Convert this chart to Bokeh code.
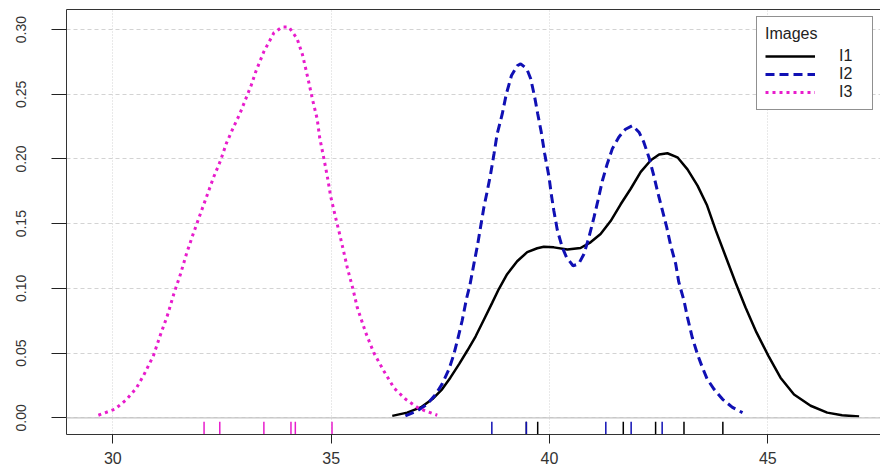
from bokeh.plotting import figure
from bokeh.models import Range1d, FixedTicker, LinearAxis, Span, Legend, LegendItem
from bokeh.embed import file_html
from bokeh.resources import INLINE

# ---------------- data ----------------
series_names = ["I1", "I2", "I3"]
legend_title = "Images"

i1_x = [36.40, 36.74, 37.05, 37.32, 37.54, 37.73, 37.93, 38.12, 38.31, 38.50, 38.69, 38.84,
        39.03, 39.26, 39.49, 39.72, 39.87, 40.10, 40.41, 40.71, 40.94, 41.17, 41.40, 41.63,
        41.86, 42.09, 42.32, 42.51, 42.70, 42.93, 43.16, 43.39, 43.61, 43.81, 44.03, 44.26,
        44.49, 44.74, 45.01, 45.29, 45.60, 45.98, 46.36, 46.70, 47.09]
i1_y = [0.0015, 0.004, 0.008, 0.0145, 0.022, 0.031, 0.0415, 0.052, 0.063, 0.076, 0.089, 0.0995,
        0.111, 0.121, 0.128, 0.131, 0.1322, 0.1317, 0.130, 0.1312, 0.1356, 0.142, 0.152, 0.165,
        0.177, 0.190, 0.199, 0.2034, 0.2044, 0.2013, 0.192, 0.1794, 0.164, 0.1446, 0.125, 0.1045,
        0.0853, 0.066, 0.048, 0.031, 0.018, 0.0093, 0.004, 0.002, 0.001]

i2_x = [36.70, 36.97, 37.20, 37.39, 37.54, 37.70, 37.81, 37.90, 38.00, 38.10, 38.18, 38.27,
        38.35, 38.42, 38.50, 38.58, 38.65, 38.73, 38.80, 38.92, 39.01, 39.13, 39.26, 39.34,
        39.48, 39.57, 39.66, 39.73, 39.81, 39.89, 39.99, 40.04, 40.10, 40.18, 40.29, 40.39,
        40.54, 40.67, 40.79, 40.90, 41.02, 41.11, 41.21, 41.32, 41.44, 41.59, 41.74, 41.90,
        42.05, 42.16, 42.28, 42.39, 42.48, 42.58, 42.68, 42.77, 42.89, 42.96, 43.08, 43.16,
        43.27, 43.39, 43.50, 43.61, 43.77, 43.96, 44.19, 44.42]
i2_y = [0.0015, 0.0054, 0.0106, 0.018, 0.026, 0.0377, 0.049, 0.061, 0.075, 0.092, 0.103, 0.119,
        0.133, 0.147, 0.163, 0.176, 0.188, 0.204, 0.219, 0.235, 0.250, 0.2645, 0.272, 0.2735,
        0.2697, 0.262, 0.248, 0.235, 0.221, 0.204, 0.186, 0.173, 0.160, 0.145, 0.132, 0.124,
        0.1175, 0.119, 0.1266, 0.139, 0.155, 0.168, 0.183, 0.196, 0.208, 0.217, 0.223, 0.2258,
        0.2207, 0.213, 0.201, 0.187, 0.174, 0.161, 0.148, 0.134, 0.119, 0.105, 0.0905, 0.0776,
        0.062, 0.049, 0.039, 0.030, 0.022, 0.0145, 0.008, 0.004]

i3_x = [29.67, 30.05, 30.31, 30.54, 30.71, 30.93, 31.09, 31.25, 31.40, 31.55, 31.69, 31.84,
        32.01, 32.16, 32.31, 32.47, 32.60, 32.77, 32.91, 33.04, 33.17, 33.28, 33.46, 33.69,
        33.88, 34.03, 34.22, 34.34, 34.41, 34.49, 34.58, 34.68, 34.74, 34.83, 34.91, 34.99,
        35.10, 35.18, 35.27, 35.37, 35.50, 35.60, 35.79, 35.98, 36.21, 36.44, 36.70, 37.01, 37.43]
i3_y = [0.002, 0.0067, 0.014, 0.023, 0.033, 0.048, 0.064, 0.079, 0.096, 0.111, 0.127, 0.142,
        0.158, 0.172, 0.186, 0.199, 0.212, 0.225, 0.235, 0.246, 0.257, 0.268, 0.283, 0.2975,
        0.302, 0.302, 0.293, 0.281, 0.271, 0.259, 0.245, 0.231, 0.216, 0.201, 0.187, 0.171,
        0.155, 0.144, 0.131, 0.116, 0.0995, 0.085, 0.066, 0.050, 0.036, 0.023, 0.0145, 0.0072, 0.002]

rug_i1 = [39.47, 39.73, 41.69, 42.43, 43.08, 43.97]
rug_i2 = [38.68, 39.47, 41.29, 41.87, 42.58]
rug_i3 = [32.09, 32.45, 33.46, 34.08, 34.18, 35.02]

x_ticks = [30, 35, 40, 45]
x_tick_labels = ["30", "35", "40", "45"]
y_ticks = [0.0, 0.05, 0.1, 0.15, 0.2, 0.25, 0.3]
y_tick_labels = ["0.00", "0.05", "0.10", "0.15", "0.20", "0.25", "0.30"]

# ---------------- styling ----------------
FONT = "Liberation Sans"
C1, C2, C3 = "#000000", "#1010b4", "#e81ccc"
DASH2, DASH3 = "9 5", "3 4"
Y0, Y1 = -0.0129, 0.3155
RUG_LEN = 0.03 * (Y1 - Y0)

p = figure(width=880, height=470, output_backend="svg", toolbar_location=None,
           x_range=Range1d(28.94, 47.58), y_range=Range1d(Y0, Y1),
           min_border_left=66, min_border_right=0, min_border_top=9, min_border_bottom=36)
p.outline_line_color = None
p.background_fill_color = "white"
p.border_fill_color = "white"

bx = p.below[0]
bx.ticker = FixedTicker(ticks=x_ticks)
bx.major_label_overrides = {t: l for t, l in zip(x_ticks, x_tick_labels)}
bx.major_tick_out = 9
bx.major_tick_in = 0
bx.minor_tick_out = 0
bx.minor_tick_in = 0
bx.major_label_standoff = 8
bx.major_label_text_font = FONT
bx.major_label_text_font_size = "16px"
bx.major_label_text_color = "#333333"
bx.axis_line_color = "#333333"
bx.major_tick_line_color = "#222222"

ly = p.left[0]
ly.ticker = FixedTicker(ticks=y_ticks)
ly.major_label_overrides = {t: l for t, l in zip(y_ticks, y_tick_labels)}
ly.major_label_orientation = "vertical"
ly.major_tick_out = 15
ly.major_tick_in = 0
ly.minor_tick_out = 0
ly.minor_tick_in = 0
ly.major_label_standoff = 25
ly.major_label_text_font = FONT
ly.major_label_text_font_size = "14px"
ly.major_label_text_color = "#333333"
ly.axis_line_color = "#333333"
ly.major_tick_line_color = "#222222"

top = LinearAxis(ticker=FixedTicker(ticks=[]), major_label_text_font_size="0px",
                 major_tick_out=0, major_tick_in=0, minor_tick_out=0, minor_tick_in=0,
                 major_label_standoff=0, axis_line_color="#333333")
p.add_layout(top, "above")

p.xgrid.ticker = FixedTicker(ticks=x_ticks)
p.ygrid.ticker = FixedTicker(ticks=y_ticks)
p.xgrid.grid_line_color = "#d3d3d3"
p.xgrid.grid_line_dash = "1 2"
p.ygrid.grid_line_color = "#d3d3d3"
p.ygrid.grid_line_dash = "4 3"

p.add_layout(Span(location=0, dimension="width", line_color="#c4c4c4", line_width=1.2))

r1 = p.line(i1_x, i1_y, line_color=C1, line_width=2.5)
r2 = p.line(i2_x, i2_y, line_color=C2, line_width=3, line_dash=DASH2)
r3 = p.line(i3_x, i3_y, line_color=C3, line_width=3, line_dash=DASH3)

for rug, col in ((rug_i1, C1), (rug_i2, C2), (rug_i3, C3)):
    n = len(rug)
    p.segment(x0=rug, y0=[Y0] * n, x1=rug, y1=[Y0 + RUG_LEN] * n,
              line_color=col, line_width=1.5)

legend = Legend(items=[LegendItem(label=series_names[0], renderers=[r1]),
                       LegendItem(label=series_names[1], renderers=[r2]),
                       LegendItem(label=series_names[2], renderers=[r3])],
                title=legend_title, location="top_right")
legend.margin = 7
legend.padding = 8
legend.spacing = 0
legend.glyph_width = 50
legend.glyph_height = 18
legend.label_height = 18
legend.label_width = 25
legend.label_standoff = 24
legend.title_standoff = 4
legend.title_text_font = FONT
legend.title_text_font_size = "16px"
legend.title_text_font_style = "normal"
legend.title_text_color = "#222222"
legend.label_text_font = FONT
legend.label_text_font_size = "16px"
legend.label_text_color = "#222222"
legend.border_line_color = "#222222"
legend.border_line_width = 1.5
legend.background_fill_alpha = 1
p.add_layout(legend)

open("out.html", "w").write(file_html(p, INLINE))
